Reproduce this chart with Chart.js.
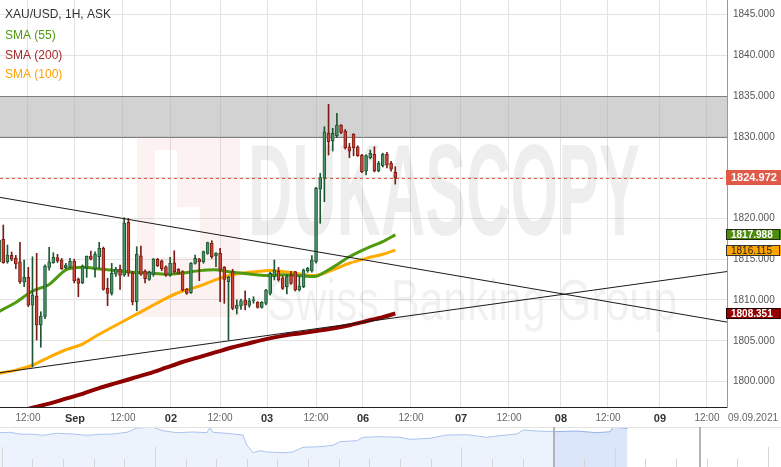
<!DOCTYPE html>
<html>
<head>
<meta charset="utf-8">
<title>XAU/USD 1H</title>
<script src="https://cdn.jsdelivr.net/npm/chart.js@4.4.1/dist/chart.umd.min.js"></script>
<style>
  html, body { margin: 0; padding: 0; background: #fff; }
  #wrap { position: relative; width: 781px; height: 467px; overflow: hidden; background: #fff; }
  #mainChart { position: absolute; left: 0; top: 0; }
  #navChart { position: absolute; left: 0; top: 427px; }
</style>
</head>
<body>
<div id="wrap">
  <canvas id="mainChart" width="781" height="427"></canvas>
  <canvas id="navChart" width="781" height="40"></canvas>
</div>
<script>
// Candles (hourly), left to right
var OPEN = [1814.7,1817.44,1814.7,1815.48,1815.1,1814.69,1812.2,1812.78,1809.38,1810.49,
  1806.93,1808.0,1814.0,1814.57,1815.2,1814.9,1813.95,1814.0,1814.78,1812.53,
  1812.12,1813.95,1815.39,1813.8,1815.3,1816.33,1811.43,1810.82,1813.18,1813.76,
  1813.06,1819.52,1813.3,1809.79,1815.42,1813.55,1812.53,1813.18,1814.99,1814.8,
  1814.08,1813.06,1814.57,1813.76,1813.47,1811.31,1810.9,1814.49,1815.02,1814.69,
  1815.72,1816.95,1815.39,1815.72,1814.0,1812.24,1813.47,1808.97,1809.26,1810.0,
  1809.34,1809.9,1809.75,1809.1,1809.59,1810.82,1812.86,1813.55,1812.73,1811.63,
  1813.06,1813.47,1811.22,1811.63,1813.55,1813.55,1814.69,1823.6,1824.92,1830.43,
  1829.5,1830.14,1831.45,1830.71,1828.79,1830.3,1828.79,1827.77,1825.81,1827.44,
  1827.85,1825.81,1826.46,1827.85,1826.75,1825.65];
var HIGH = [1817.6,1819.19,1816.74,1815.88,1815.48,1817.07,1814.9,1814.0,1815.3,1815.72,
  1808.56,1814.3,1816.46,1815.8,1815.6,1815.1,1814.5,1815.1,1815.0,1812.7,
  1814.3,1815.4,1816.0,1815.9,1817.07,1816.5,1812.66,1814.49,1814.0,1814.29,
  1820.09,1820.0,1813.5,1816.53,1816.6,1813.7,1813.55,1815.1,1815.1,1814.9,
  1814.2,1815.23,1816.04,1813.85,1813.6,1811.4,1814.6,1815.51,1815.1,1816.0,
  1817.1,1817.27,1815.8,1816.33,1814.1,1812.9,1813.76,1810.0,1810.1,1811.13,
  1810.2,1810.4,1809.8,1809.8,1811.3,1813.4,1814.9,1814.0,1812.9,1813.1,
  1813.5,1813.5,1812.94,1813.8,1814.0,1815.43,1823.8,1825.53,1831.24,1833.99,
  1831.05,1832.89,1831.5,1830.9,1829.21,1830.4,1828.9,1827.85,1827.8,1828.39,
  1828.79,1827.0,1828.0,1828.1,1827.0,1826.34];
var LOW = [1814.5,1814.5,1814.5,1814.81,1813.83,1812.04,1811.63,1809.2,1801.8,1805.09,
  1804.2,1807.7,1813.67,1814.5,1814.6,1813.75,1813.8,1813.9,1812.1,1810.4,
  1812.0,1812.78,1814.9,1812.8,1813.88,1811.2,1809.3,1810.6,1812.9,1811.3,
  1812.9,1812.9,1809.4,1808.68,1813.0,1812.1,1812.4,1812.9,1814.1,1813.6,
  1812.9,1812.9,1813.3,1813.2,1811.1,1810.7,1810.8,1814.4,1812.37,1814.5,
  1815.6,1815.1,1814.08,1809.79,1809.59,1805.09,1808.8,1808.28,1808.85,1808.77,
  1809.1,1809.6,1809.0,1809.0,1809.4,1810.6,1812.45,1812.3,1811.3,1810.73,
  1811.9,1811.1,1811.1,1811.5,1813.4,1813.4,1814.5,1819.4,1822.05,1827.77,
  1828.26,1829.9,1830.4,1828.5,1827.44,1827.69,1827.6,1825.6,1825.32,1827.3,
  1825.7,1825.7,1826.3,1826.2,1825.8,1824.2];
var CLOSE = [1817.35,1814.57,1815.51,1814.99,1814.41,1812.24,1812.78,1809.38,1810.6,1806.93,
  1808.03,1814.16,1814.69,1815.23,1814.8,1813.83,1814.28,1814.78,1812.37,1812.04,
  1814.16,1815.39,1814.99,1815.64,1816.33,1811.31,1810.82,1813.27,1813.8,1813.02,
  1819.4,1813.3,1809.8,1815.6,1813.18,1812.6,1813.39,1815.02,1814.2,1813.8,
  1813.06,1814.49,1813.47,1813.27,1811.22,1810.82,1814.49,1815.1,1814.69,1815.92,
  1817.03,1815.3,1815.72,1813.76,1812.53,1812.78,1808.97,1809.38,1809.91,1809.38,
  1809.91,1810.0,1809.1,1809.71,1811.22,1813.27,1813.67,1812.45,1811.43,1812.86,
  1812.04,1811.22,1811.7,1813.67,1813.88,1814.9,1823.69,1825.0,1830.63,1829.41,
  1830.43,1831.45,1830.56,1828.67,1828.26,1828.67,1827.69,1825.73,1827.69,1827.98,
  1825.81,1826.75,1827.85,1826.54,1826.05,1824.97];

// Moving averages, read every 4th candle
var SMA_IDX = [0,4,8,12,16,20,24,28,32,36,40,44,48,52,56,60,64,68,72,76,80,84,88,92,95];
var SMA55  = [1808.6,1809.7,1811.1,1811.9,1813.7,1814.0,1813.8,1813.6,1813.4,1813.3,1813.15,1813.3,1813.6,
  1813.7,1813.4,1813.2,1813.0,1813.1,1813.0,1812.9,1814.0,1815.3,1816.3,1817.15,1817.988];
var SMA100 = [1801.0,1801.4,1802.0,1803.0,1803.9,1804.6,1805.8,1806.9,1808.0,1809.1,1810.2,1811.1,1811.7,
  1812.5,1813.1,1813.4,1813.6,1813.5,1813.2,1813.0,1813.7,1814.5,1815.1,1815.6,1816.115];
var SMA200 = [1795.6,1796.2,1796.8,1797.3,1797.9,1798.5,1799.2,1799.8,1800.4,1801.0,1801.7,1802.4,1803.0,
  1803.6,1804.2,1804.7,1805.2,1805.6,1805.9,1806.2,1806.5,1806.9,1807.4,1807.9,1808.351];

// Trend lines (start / end)
var TREND_IDX  = [0, 175];
var TREND_DOWN = [1822.6, 1807.25];
var TREND_UP   = [1801.07, 1813.52];

var ZONE = [1830, 1835];
var LAST_PRICE = 1824.972;

var Y_TICKS = [1800, 1805, 1810, 1815, 1820, 1825, 1830, 1835, 1840, 1845];
var X_TICK_POS = [6.92, 18.19, 29.7, 41.21, 52.97, 64.24, 75.99, 87.26, 98.77, 110.76, 122.27, 134.74, 146.01, 158.48, 169.75];
var X_TICK_LABELS = ["12:00", "Sep", "12:00", "02", "12:00", "03", "12:00", "06", "12:00", "07", "12:00", "08", "12:00", "09", "12:00"];
var DATE_LABEL = "09.09.2021";

var LEGEND_TEXT   = ["XAU/USD, 1H, ASK", "SMA (55)", "SMA (200)", "SMA (100)"];
var LEGEND_COLORS = ["#333333", "#4e9a12", "#a82a2a", "#ffa200"];

// Navigator (longer history)
var NAV_DAY = [-0.06,0.27,0.6,1.02,1.35,1.8,2.33,2.78,3.21,3.63,4.09,4.41,4.94,5.26,5.72,6.24,6.7,6.8,6.89,
  7.35,7.87,8.0,8.2,8.43,8.66,9.18,9.5,9.83,10.38,10.81,11.04,11.59,11.79,12.34,12.99,13.32,13.97,14.53,
  15.18,15.83,16.36,16.81,17.01,17.47,18.01,18.77,19.42,19.85,19.95,20.27,20.42];
var NAV_VALUE = [1824.3,1824.7,1823.0,1822.7,1821.7,1823.7,1823.0,1821.7,1822.7,1823.0,1824.7,1829.0,1829.7,
  1826.3,1824.3,1825.0,1824.3,1829.7,1824.7,1823.7,1822.0,1812.0,1804.3,1806.3,1805.0,1804.3,1805.0,1809.7,
  1810.3,1811.7,1815.3,1816.3,1819.7,1820.3,1819.7,1817.7,1818.7,1822.0,1822.3,1819.7,1821.7,1823.0,1827.0,
  1826.0,1825.3,1826.0,1824.3,1825.3,1829.7,1829.0,1828.3];
var NAV_SPLIT = 44;
var NAV_WINDOW = [18.01, 22.78];
var NAV_MAJOR = [0, 5, 15, 20, 25];

var FONT = "'Liberation Sans', Arial, sans-serif";
Chart.defaults.font.family = FONT;

var GREEN_BODY = "#4b9468", GREEN_EDGE = "#1d5733";
var RED_BODY = "#cc4535", RED_EDGE = "#7a1d16";

var idx = OPEN.map(function (v, i) { return i; });
var bull = OPEN.map(function (o, i) { return CLOSE[i] >= o; });

function pts(xs, ys) {
  return xs.map(function (x, i) { return { x: x, y: ys[i] }; });
}

function smaSet(label, values, color, width, order) {
  return {
    type: "line", label: label, data: pts(SMA_IDX, values),
    borderColor: color, borderWidth: width, pointRadius: 0, tension: 0.25, order: order
  };
}

function trendSet(label, values) {
  return {
    type: "line", label: label, data: pts(TREND_IDX, values),
    borderColor: "#1a1a1a", borderWidth: 1, pointRadius: 0, order: 0
  };
}

// keep the plot flush with the canvas edges
function noPad(s) {
  s.paddingLeft = 0; s.paddingRight = 0; s.paddingTop = 0; s.paddingBottom = 0;
}

// Background: watermark, resistance zone, last price line
var chartDecor = {
  id: "chartDecor",
  beforeDatasetsDraw: function (chart) {
    var ctx = chart.ctx, a = chart.chartArea, ys = chart.scales.y;
    ctx.save();
    ctx.beginPath();
    ctx.rect(a.left, a.top, a.right - a.left, a.bottom - a.top);
    ctx.clip();

    // watermark logo
    ctx.beginPath();
    ctx.rect(137, 138, 103, 179);
    ctx.rect(155, 150, 22, 57);
    ctx.rect(155, 207, 45, 50);
    ctx.fillStyle = "rgba(225,70,70,0.07)";
    ctx.fill("evenodd");

    ctx.fillStyle = "rgba(0,0,0,0.065)";
    ctx.textBaseline = "alphabetic";
    ctx.textAlign = "left";
    ctx.font = "bold 130px " + FONT;
    var w = ctx.measureText("DUKASCOPY").width;
    ctx.save();
    ctx.translate(248, 235);
    ctx.scale(392 / w, 1);
    ctx.fillText("DUKASCOPY", 0, 0);
    ctx.restore();

    ctx.fillStyle = "rgba(0,0,0,0.055)";
    ctx.font = "58px " + FONT;
    w = ctx.measureText("Swiss Banking Group").width;
    ctx.save();
    ctx.translate(267, 320);
    ctx.scale(410 / w, 1);
    ctx.fillText("Swiss Banking Group", 0, 0);
    ctx.restore();

    // zone
    var zTop = Math.round(ys.getPixelForValue(ZONE[1]));
    var zBot = Math.round(ys.getPixelForValue(ZONE[0]));
    ctx.fillStyle = "rgba(165,165,165,0.5)";
    ctx.fillRect(a.left, zTop, a.right - a.left, zBot - zTop);
    ctx.strokeStyle = "#7f7f7f";
    ctx.lineWidth = 1;
    ctx.beginPath();
    ctx.moveTo(a.left, zTop + 0.5); ctx.lineTo(a.right, zTop + 0.5);
    ctx.moveTo(a.left, zBot + 0.5); ctx.lineTo(a.right, zBot + 0.5);
    ctx.stroke();

    // last price
    var yp = Math.round(ys.getPixelForValue(LAST_PRICE)) + 0.5;
    ctx.strokeStyle = "#df5a45";
    ctx.setLineDash([3, 3]);
    ctx.beginPath();
    ctx.moveTo(a.left, yp); ctx.lineTo(a.right, yp);
    ctx.stroke();
    ctx.restore();
  },
  afterDatasetsDraw: function (chart) {
    var ctx = chart.ctx;
    ctx.save();
    ctx.font = "12px " + FONT;
    ctx.textAlign = "left";
    ctx.textBaseline = "middle";
    var rows = [15, 36, 55.5, 75];
    for (var i = 0; i < LEGEND_TEXT.length; i++) {
      ctx.fillStyle = LEGEND_COLORS[i];
      ctx.fillText(LEGEND_TEXT[i], 5, rows[i]);
    }
    ctx.restore();
  },
  afterDraw: function (chart) {
    var ctx = chart.ctx, a = chart.chartArea, ys = chart.scales.y;
    function box(value, bg, fg, edge, h, bold) {
      var yc = ys.getPixelForValue(value);
      var top = Math.round(yc - h / 2);
      ctx.fillStyle = bg;
      ctx.fillRect(a.right - 1, top, 55, h);
      if (edge) {
        ctx.strokeStyle = edge;
        ctx.lineWidth = 1;
        ctx.strokeRect(a.right - 0.5, top + 0.5, 53, h - 1);
      }
      ctx.fillStyle = fg;
      ctx.font = (bold ? "bold " : "") + (h > 12 ? "11px " : "10px ") + FONT;
      ctx.textAlign = "left";
      ctx.textBaseline = "middle";
      ctx.fillText(value.toFixed(3), a.right + 4, top + h / 2 + 0.5);
    }
    ctx.save();
    box(LAST_PRICE, "#e05a48", "#ffffff", null, 15, true);
    box(SMA55[SMA55.length - 1], "#4e8c10", "#ffffff", "#1f2a10", 11, true);
    box(SMA100[SMA100.length - 1], "#ffa500", "#222222", "#333333", 11, false);
    box(SMA200[SMA200.length - 1], "#960000", "#ffffff", "#1a0000", 11, true);

    ctx.fillStyle = "#666";
    ctx.font = "10px " + FONT;
    ctx.textAlign = "left";
    ctx.textBaseline = "middle";
    ctx.fillText(DATE_LABEL, a.right + 1, 418);
    ctx.restore();
  }
};

var mainChart = new Chart(document.getElementById("mainChart"), {
  type: "bar",
  data: {
    datasets: [
      trendSet("down", TREND_DOWN),
      trendSet("up", TREND_UP),
      {
        type: "bar", label: "body",
        data: idx.map(function (i) { return { x: i, y: [OPEN[i], CLOSE[i]] }; }),
        backgroundColor: bull.map(function (b) { return b ? GREEN_BODY : RED_BODY; }),
        borderColor: bull.map(function (b) { return b ? GREEN_EDGE : RED_EDGE; }),
        borderWidth: 1, borderSkipped: false, barThickness: 3, minBarLength: 1,
        grouped: false, order: 1
      },
      {
        type: "bar", label: "wick",
        data: idx.map(function (i) { return { x: i, y: [LOW[i], HIGH[i]] }; }),
        backgroundColor: bull.map(function (b) { return b ? GREEN_EDGE : RED_EDGE; }),
        borderWidth: 0, barThickness: 1, grouped: false, order: 2
      },
      smaSet("SMA (55)", SMA55, "#4f9a0e", 3, 3),
      smaSet("SMA (100)", SMA100, "#ffab00", 3, 4),
      smaSet("SMA (200)", SMA200, "#8e0000", 4, 5)
    ]
  },
  options: {
    responsive: false,
    animation: false,
    events: [],
    devicePixelRatio: 1,
    layout: { padding: 0 },
    plugins: { legend: { display: false }, tooltip: { enabled: false } },
    scales: {
      x: {
        type: "linear",
        offset: false,
        min: 0.21,
        max: 174.55,
        afterBuildTicks: function (s) {
          s.ticks = X_TICK_POS.map(function (v) { return { value: v }; });
        },
        afterFit: function (s) { s.height = 20; noPad(s); },
        ticks: {
          autoSkip: false,
          maxRotation: 0,
          padding: 5,
          callback: function (v, i) { return X_TICK_LABELS[i]; },
          font: function (c) {
            return X_TICK_LABELS[c.index] === "12:00"
              ? { size: 10, family: FONT }
              : { size: 11, weight: "bold", family: FONT };
          },
          color: function (c) {
            return X_TICK_LABELS[c.index] === "12:00" ? "#666666" : "#333333";
          }
        },
        grid: { color: "#e3e3e3", drawTicks: false, offset: false },
        border: { display: true, color: "#222222", width: 1 }
      },
      y: {
        position: "right",
        min: 1796.88,
        max: 1846.78,
        afterBuildTicks: function (s) {
          s.ticks = Y_TICKS.map(function (v) { return { value: v }; });
        },
        afterFit: function (s) { s.width = 54; noPad(s); },
        ticks: {
          padding: 6,
          color: "#555555",
          font: { size: 10, family: FONT },
          callback: function (v) { return Number(v).toFixed(3); }
        },
        grid: { color: "#e3e3e3", drawTicks: false },
        border: { display: true, color: "#9a9a9a", width: 1 }
      }
    }
  },
  plugins: [chartDecor]
});

// Navigator strip
var navPoints = pts(NAV_DAY, NAV_VALUE);

var navDecor = {
  id: "navDecor",
  afterDatasetsDraw: function (chart) {
    var ctx = chart.ctx, xs = chart.scales.x, h = chart.height;
    ctx.save();
    ctx.strokeStyle = "#d6d6d6";
    ctx.lineWidth = 1;
    ctx.beginPath();
    for (var d = 0; d <= 25; d++) {
      var px = Math.round(xs.getPixelForValue(d)) + 0.5;
      var top = NAV_MAJOR.indexOf(d) >= 0 ? 20 : 32;
      ctx.moveTo(px, top); ctx.lineTo(px, h);
    }
    ctx.stroke();

    ctx.strokeStyle = "#e2e2e2";
    ctx.beginPath();
    ctx.moveTo(0, 0.5); ctx.lineTo(chart.width, 0.5);
    ctx.stroke();

    ctx.strokeStyle = "#b3b3b3";
    ctx.lineWidth = 2;
    ctx.beginPath();
    for (var k = 0; k < NAV_WINDOW.length; k++) {
      var hx = Math.round(xs.getPixelForValue(NAV_WINDOW[k]));
      ctx.moveTo(hx, 0); ctx.lineTo(hx, h);
    }
    ctx.stroke();
    ctx.restore();
  }
};

var navChart = new Chart(document.getElementById("navChart"), {
  type: "line",
  data: {
    datasets: [
      {
        data: navPoints.slice(0, NAV_SPLIT + 1), fill: "start",
        backgroundColor: "#edf3fd", borderColor: "#aac4ee", borderWidth: 1, pointRadius: 0
      },
      {
        data: navPoints.slice(NAV_SPLIT), fill: "start",
        backgroundColor: "#dbe6fa", borderColor: "#93b3e8", borderWidth: 1, pointRadius: 0
      }
    ]
  },
  options: {
    responsive: false,
    animation: false,
    events: [],
    devicePixelRatio: 1,
    layout: { padding: 0 },
    plugins: { legend: { display: false }, tooltip: { enabled: false } },
    scales: {
      x: { type: "linear", display: false, min: -0.055, max: 25.43 },
      y: { display: false, min: 1790, max: 1830 }
    }
  },
  plugins: [navDecor]
});
</script>
</body>
</html>
